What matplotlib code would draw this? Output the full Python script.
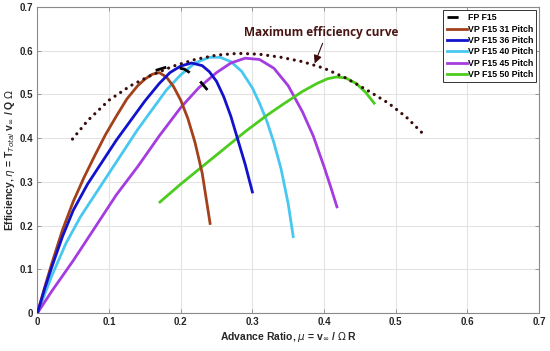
import matplotlib
matplotlib.use("Agg")
import matplotlib.pyplot as plt

plt.rcParams['font.family'] = ['Liberation Sans', 'DejaVu Sans']
plt.rcParams['mathtext.fontset'] = 'dejavusans'

# --- data ---
fp_x = [0.165, 0.185, 0.205, 0.222, 0.240]
fp_y = [0.555, 0.565, 0.558, 0.540, 0.505]

p31_x = [0, 0.01, 0.02, 0.035, 0.05, 0.065, 0.08, 0.095, 0.11, 0.125, 0.14, 0.15,
         0.16, 0.17, 0.18, 0.19, 0.20, 0.21, 0.22, 0.23, 0.241]
p31_y = [0, 0.058, 0.113, 0.19, 0.255, 0.31, 0.36, 0.408, 0.45, 0.49, 0.52, 0.535,
         0.546, 0.55, 0.54, 0.518, 0.487, 0.445, 0.39, 0.32, 0.205]

p36_x = [0, 0.01, 0.02, 0.035, 0.05, 0.07, 0.09, 0.11, 0.13, 0.15, 0.17, 0.185,
         0.20, 0.215, 0.23, 0.24, 0.25, 0.26, 0.27, 0.28, 0.29, 0.30]
p36_y = [0, 0.055, 0.105, 0.175, 0.235, 0.295, 0.345, 0.395, 0.44, 0.485, 0.525, 0.55,
         0.565, 0.572, 0.566, 0.552, 0.53, 0.495, 0.45, 0.395, 0.34, 0.277]

p40_x = [0, 0.02, 0.04, 0.06, 0.08, 0.10, 0.12, 0.14, 0.16, 0.18, 0.20, 0.22, 0.24,
         0.255, 0.27, 0.285, 0.30, 0.31, 0.32, 0.33, 0.34, 0.35, 0.357]
p40_y = [0, 0.085, 0.16, 0.22, 0.27, 0.32, 0.37, 0.42, 0.465, 0.51, 0.545, 0.572, 0.585,
         0.585, 0.575, 0.553, 0.515, 0.48, 0.44, 0.39, 0.33, 0.25, 0.175]

p45_x = [0, 0.02, 0.05, 0.08, 0.11, 0.14, 0.17, 0.20, 0.225, 0.25, 0.27, 0.29, 0.31,
         0.33, 0.35, 0.37, 0.385, 0.40, 0.41, 0.418]
p45_y = [0, 0.05, 0.12, 0.195, 0.27, 0.335, 0.405, 0.47, 0.515, 0.55, 0.572, 0.583, 0.58,
         0.56, 0.52, 0.46, 0.405, 0.335, 0.285, 0.243]

p50_x = [0.171, 0.20, 0.23, 0.26, 0.29, 0.32, 0.345, 0.37, 0.39, 0.405, 0.417, 0.43,
         0.445, 0.458, 0.47]
p50_y = [0.254, 0.295, 0.335, 0.375, 0.415, 0.452, 0.48, 0.507, 0.525, 0.536, 0.54, 0.538,
         0.525, 0.505, 0.48]

max_x = [0.049, 0.07, 0.10, 0.13, 0.16, 0.19, 0.22, 0.25, 0.28, 0.31, 0.34, 0.37, 0.40,
         0.43, 0.46, 0.49, 0.515, 0.537]
max_y = [0.398, 0.44, 0.487, 0.52, 0.545, 0.565, 0.58, 0.59, 0.594, 0.592, 0.585, 0.575,
         0.56, 0.538, 0.51, 0.48, 0.448, 0.412]

labels = ['FP F15', 'VP F15 31 Pitch', 'VP F15 36 Pitch', 'VP F15 40 Pitch',
          'VP F15 45 Pitch', 'VP F15 50 Pitch']
x_ticks = [0, 0.1, 0.2, 0.3, 0.4, 0.5, 0.6, 0.7]
y_ticks = [0, 0.1, 0.2, 0.3, 0.4, 0.5, 0.6, 0.7]

fig = plt.figure(figsize=(5.5, 3.51), dpi=100)
ax = fig.add_axes([0.068, 0.108, 0.912, 0.872])

ax.plot(fp_x, fp_y, color='black', lw=2, dashes=(4, 5), label=labels[0], zorder=5)
ax.plot(p31_x, p31_y, color='#A3411B', lw=2, label=labels[1], zorder=4)
ax.plot(p36_x, p36_y, color='#1212CC', lw=2, label=labels[2], zorder=4)
ax.plot(p40_x, p40_y, color='#48C8F0', lw=2, label=labels[3], zorder=3)
ax.plot(p45_x, p45_y, color='#A43CE0', lw=2, label=labels[4], zorder=3)
ax.plot(p50_x, p50_y, color='#4CCC1E', lw=2, label=labels[5], zorder=3)
ax.plot(max_x, max_y, color='#3A0C0C', lw=2.3, linestyle=(0, (0.01, 2.1)),
        dash_capstyle='round', solid_capstyle='round', zorder=6)

ax.text(0.396, 0.641, 'Maximum efficiency curve', ha='center', va='center',
        fontsize=8.5, fontweight='bold', color='#4A1515',
        family=['Open Sans', 'DejaVu Sans'])
ax.annotate('', xy=(0.387, 0.571), xytext=(0.398, 0.617),
            arrowprops=dict(arrowstyle='-|>', color='#3A0C0C', lw=0.8,
                            mutation_scale=12, shrinkA=0, shrinkB=0))

ax.set_xlim(0, 0.7)
ax.set_ylim(0, 0.7)
ax.set_xticks(x_ticks)
ax.set_yticks(y_ticks)
ax.set_xticklabels([f'{v:g}' for v in x_ticks])
ax.set_yticklabels([f'{v:g}' for v in y_ticks])
ax.grid(True, color='#E3E3E3', lw=0.8)
ax.set_axisbelow(True)
for s in ax.spines.values():
    s.set_color('#8A8A8A')
    s.set_linewidth(0.8)
ax.tick_params(axis='both', labelsize=7, colors='#8A8A8A', labelcolor='#262626',
               length=3, width=0.6, direction='in', pad=3, top=True, right=True)
for lab in ax.get_xticklabels() + ax.get_yticklabels():
    lab.set_fontweight('bold')

ax.set_xlabel(r'Advance Ratio, $\mu$ = v$_{\infty}$ / $\Omega$ R', fontsize=7.5,
              fontweight='bold', color='#262626', labelpad=2)
ax.set_ylabel(r'Efficiency, $\eta$ = T$_{Total}$ v$_{\infty}$ / Q $\Omega$', fontsize=7.5,
              fontweight='bold', color='#262626', labelpad=2)

leg = ax.legend(loc='upper right', bbox_to_anchor=(0.994, 0.99), borderaxespad=0,
                prop={'weight': 'bold', 'size': 6.3}, handlelength=2.3,
                handletextpad=0.1, labelspacing=0.28, borderpad=0.35,
                frameon=True, fancybox=False, edgecolor='#333333', framealpha=1)
leg.get_frame().set_linewidth(0.7)

fig.savefig('out.png', dpi=100)
